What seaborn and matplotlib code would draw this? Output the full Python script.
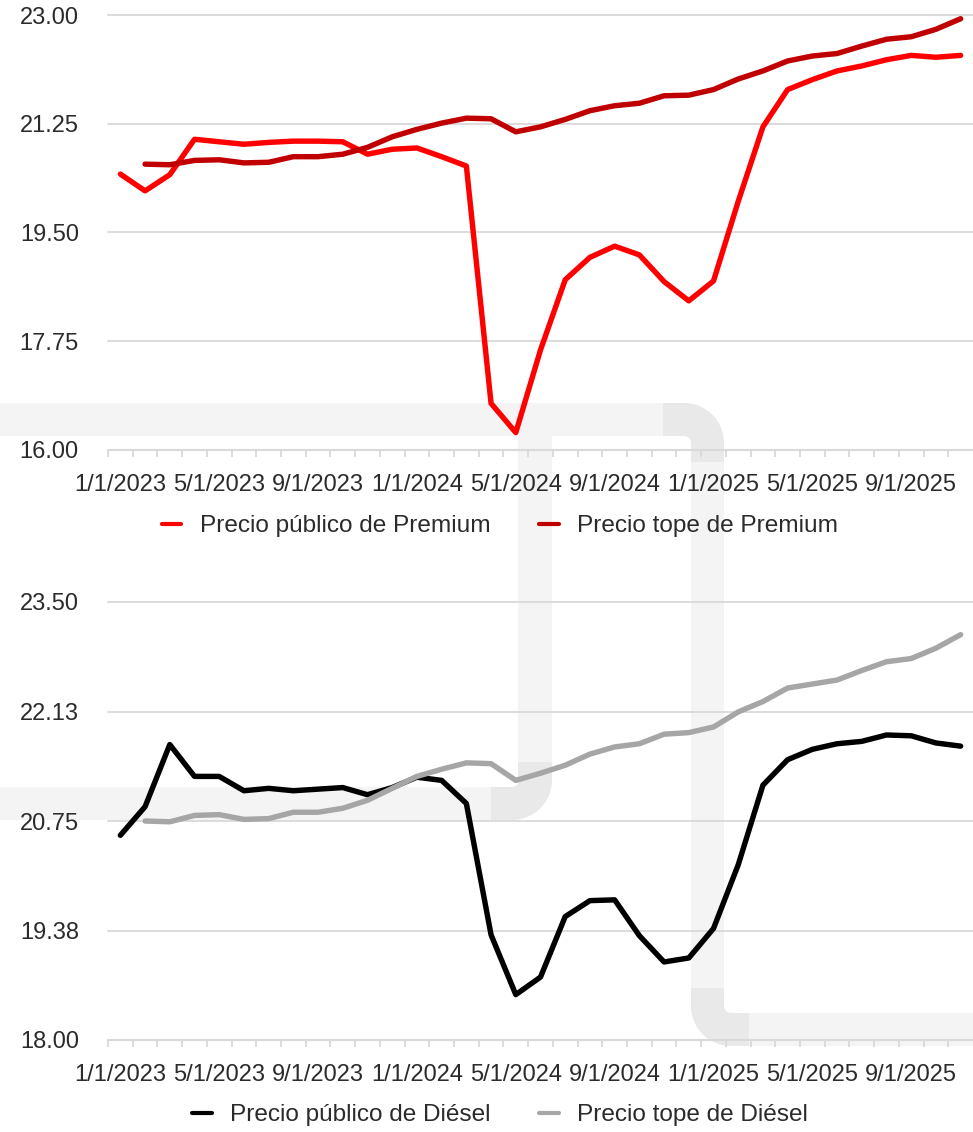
import numpy as np
import pandas as pd
import matplotlib
matplotlib.use('Agg')
import matplotlib.pyplot as plt
import seaborn as sns
from matplotlib.patches import Rectangle, Wedge
from matplotlib.lines import Line2D

# monthly series, Jan 2023 .. Nov 2025
meses = pd.date_range('2023-01-01', periods=35, freq='MS')
etiquetas = [f'{m.month}/{m.day}/{m.year}' for m in meses]

premium_publico = [20.44, 20.17, 20.43, 21.00, 20.96, 20.92, 20.95, 20.97, 20.97, 20.96,
                   20.76, 20.84, 20.86, 20.72, 20.57, 16.75, 16.28, 17.61, 18.74, 19.10,
                   19.28, 19.14, 18.71, 18.40, 18.72, 20.00, 21.20, 21.80, 21.96, 22.10,
                   22.18, 22.28, 22.35, 22.32, 22.35]
premium_tope = [None, 20.60, 20.59, 20.66, 20.67, 20.62, 20.63, 20.72, 20.72, 20.76,
                20.87, 21.04, 21.16, 21.26, 21.34, 21.33, 21.12, 21.20, 21.32, 21.46,
                21.54, 21.58, 21.70, 21.71, 21.80, 21.97, 22.10, 22.26, 22.34, 22.38,
                22.50, 22.61, 22.65, 22.77, 22.94]
diesel_publico = [20.57, 20.93, 21.71, 21.31, 21.31, 21.13, 21.16, 21.13, 21.15, 21.17,
                  21.08, 21.17, 21.30, 21.26, 20.97, 19.32, 18.57, 18.79, 19.55, 19.75,
                  19.76, 19.31, 18.98, 19.03, 19.40, 20.20, 21.20, 21.52, 21.65, 21.72,
                  21.75, 21.83, 21.82, 21.73, 21.69]
diesel_tope = [None, 20.75, 20.74, 20.82, 20.83, 20.77, 20.78, 20.86, 20.86, 20.91,
               21.01, 21.16, 21.31, 21.40, 21.48, 21.47, 21.26, 21.35, 21.45, 21.59,
               21.68, 21.72, 21.84, 21.86, 21.93, 22.12, 22.25, 22.42, 22.47, 22.52,
               22.64, 22.75, 22.79, 22.92, 23.09]

premium_nombres = ['Precio público de Premium', 'Precio tope de Premium']
diesel_nombres = ['Precio público de Diésel', 'Precio tope de Diésel']
premium_colores = ['#ff0000', '#c00000']
diesel_colores = ['#000000', '#a6a6a6']

premium_yticks = [16.0, 17.75, 19.5, 21.25, 23.0]
premium_ylabels = ['16.00', '17.75', '19.50', '21.25', '23.00']
diesel_yticks = [18.0, 19.375, 20.75, 22.125, 23.5]
diesel_ylabels = ['18.00', '19.38', '20.75', '22.13', '23.50']

W, H = 973, 1132
TEXTO = '#2b2b2b'
GRIS = '#d9d9d9'

sns.set_style('white')
plt.rcParams['font.family'] = ['Liberation Sans', 'DejaVu Sans']


def watermark(fig):
    # faint logo behind the charts (pixel coords, origin top-left)
    claro = '#f4f4f4'
    oscuro = '#e9e9e9'

    def rect(x0, y0, x1, y1, c):
        fig.add_artist(Rectangle((x0, H - y1), x1 - x0, y1 - y0, transform=None,
                                 color=c, lw=0, zorder=-5))

    def wedge(cx, cy, r, t1, t2, c):
        fig.add_artist(Wedge((cx, H - cy), r, t1, t2, width=33, transform=None,
                             color=c, lw=0, zorder=-5))

    rect(0, 403, 663, 436, claro)
    rect(663, 403, 684, 436, oscuro)
    wedge(684, 443, 40, 0, 90, oscuro)
    rect(691, 443, 724, 462, oscuro)
    rect(691, 462, 724, 988, claro)
    rect(691, 988, 724, 1006, oscuro)
    wedge(731, 1006, 40, 180, 270, oscuro)
    rect(731, 1013, 749, 1046, oscuro)
    rect(749, 1013, 973, 1046, claro)
    rect(518, 436, 552, 762, claro)
    rect(518, 762, 552, 780, oscuro)
    wedge(512, 780, 40, 270, 360, oscuro)
    rect(491, 787, 512, 820, oscuro)
    rect(0, 787, 491, 820, claro)


def panel(ax, publico, tope, nombres, colores, yticks, ylabels):
    n = len(publico)
    frame = pd.DataFrame({'mes': list(range(n)) * 2,
                          'precio': publico + tope,
                          'serie': [nombres[0]] * n + [nombres[1]] * n}).dropna()
    sns.lineplot(data=frame, x='mes', y='precio', hue='serie', hue_order=nombres,
                 palette=dict(zip(nombres, colores)), lw=3.9, legend=False, ax=ax,
                 solid_capstyle='round', solid_joinstyle='round')
    ax.set_facecolor('none')
    ax.set_xlim(-0.5, n - 0.5)
    ax.set_ylim(yticks[0], yticks[-1])
    ax.set_yticks(yticks)
    ax.set_yticklabels(ylabels)
    ax.set_xticks(range(0, n, 4))
    ax.set_xticklabels(etiquetas[::4])
    ax.set_xticks(np.arange(-0.5, n - 1, 1), minor=True)
    ax.tick_params(axis='y', left=False, length=0, pad=21, labelsize=17, labelcolor=TEXTO)
    ax.tick_params(axis='x', which='major', bottom=True, length=0, pad=17,
                   labelsize=17, labelcolor=TEXTO)
    ax.tick_params(axis='x', which='minor', bottom=True, length=5, width=1.3,
                   color=GRIS, direction='out')
    ax.grid(axis='y', color=GRIS, lw=1.3)
    for g in ax.get_ygridlines():
        g.set_clip_on(False)
    for s in ['top', 'right', 'left']:
        ax.spines[s].set_visible(False)
    ax.spines['bottom'].set_color(GRIS)
    ax.spines['bottom'].set_linewidth(1.5)
    ax.set_xlabel('')
    ax.set_ylabel('')


def leyenda(fig, nombres, colores, y):
    handles = [Line2D([], [], color=c, lw=3) for c in colores]
    fig.legend(handles, nombres, loc='center', bbox_to_anchor=(500 / W, 1 - y / H),
               ncol=2, frameon=False, fontsize=17.6, handlelength=0.8, handletextpad=0.75,
               columnspacing=2.0, labelcolor=TEXTO)


fig = plt.figure(figsize=(W / 100, H / 100), dpi=100)
watermark(fig)

ax1 = fig.add_axes([108 / W, 1 - 450 / H, 865 / W, 435 / H])
panel(ax1, premium_publico, premium_tope, premium_nombres, premium_colores,
      premium_yticks, premium_ylabels)
leyenda(fig, premium_nombres, premium_colores, 526)

ax2 = fig.add_axes([108 / W, 1 - 1040 / H, 865 / W, 438 / H])
panel(ax2, diesel_publico, diesel_tope, diesel_nombres, diesel_colores,
      diesel_yticks, diesel_ylabels)
leyenda(fig, diesel_nombres, diesel_colores, 1115)

fig.savefig('out.png', dpi=100)
